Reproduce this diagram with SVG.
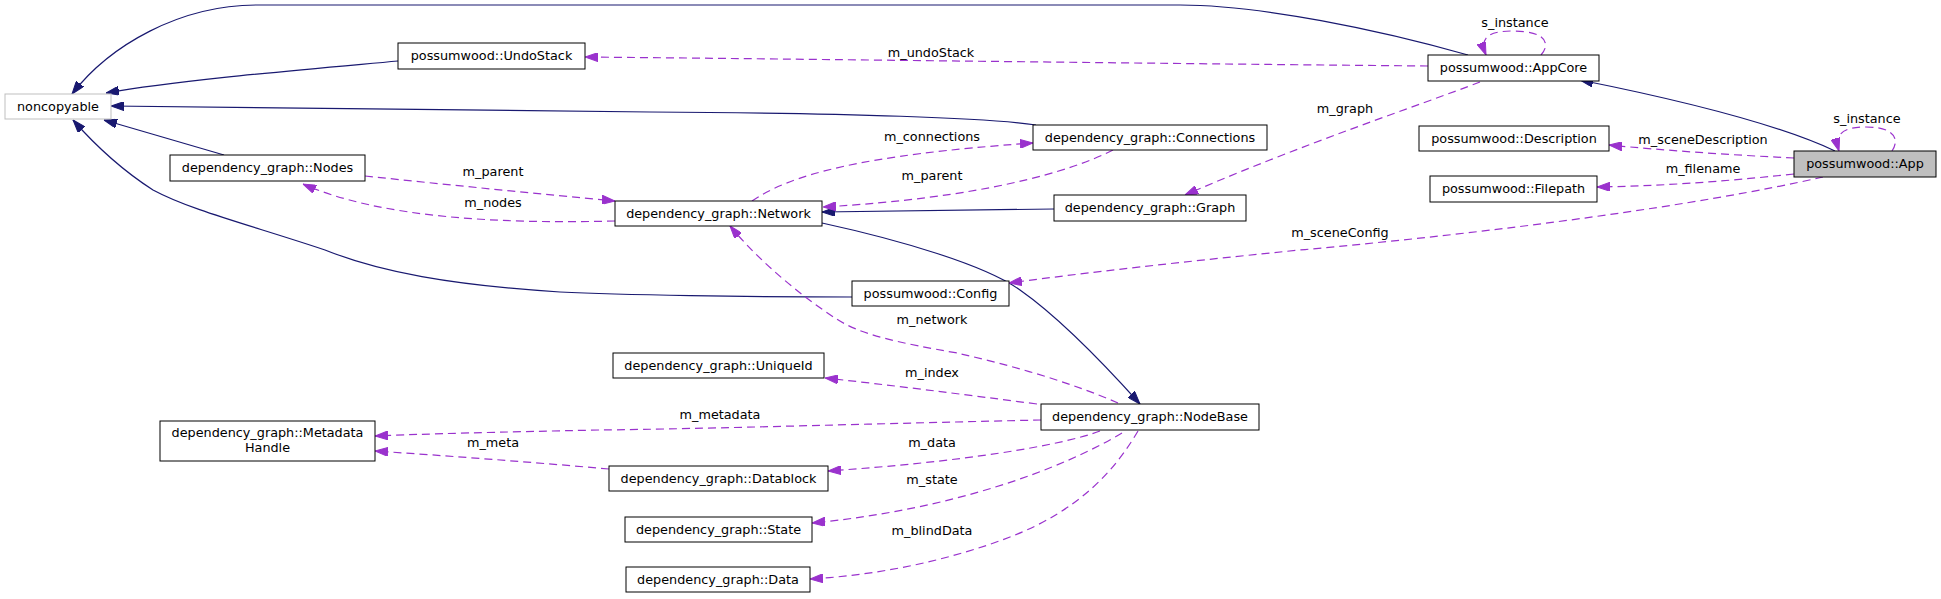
<svg xmlns="http://www.w3.org/2000/svg" width="1941" height="599" viewBox="0 0 1941 599">
<style>
.n rect{fill:#fff;stroke:#000;stroke-width:1}
.n text,.lbl{font-family:"DejaVu Sans",sans-serif;font-size:12.8px;fill:#000;text-anchor:middle}
.inh{fill:none;stroke:#191970;stroke-width:1.2;marker-end:url(#ab)}
.use{fill:none;stroke:#9a32cd;stroke-width:1.2;stroke-dasharray:8,5;marker-end:url(#ap)}
</style>
<defs>
<marker id="ab" viewBox="0 0 13 9" refX="13" refY="4.5" markerWidth="13" markerHeight="9" markerUnits="userSpaceOnUse" orient="auto"><path d="M0,0L13,4.5L0,9z" fill="#191970" stroke="#191970"/></marker>
<marker id="ap" viewBox="0 0 13 9" refX="13" refY="4.5" markerWidth="13" markerHeight="9" markerUnits="userSpaceOnUse" orient="auto"><path d="M0,0L13,4.5L0,9z" fill="#9a32cd" stroke="#9a32cd"/></marker>
</defs>
<rect width="1941" height="599" fill="#fff"/>
<g id="connectors">
<path class="inh" d="M1468,55 C1380,30 1260,5 1180,5 L257,5 C180,5 110,45 72,94"/>
<path class="inh" d="M398,61 C300,70 180,80 106,93"/>
<path class="inh" d="M1036,125 C990,118 850,113 650,112 C450,110 250,107 111,106"/>
<path class="inh" d="M224,155 L104,120"/>
<path class="inh" d="M852,297 C750,297 620,295 560,292 C450,285 380,272 325,250 C250,225 190,210 153,190 C125,172 95,145 73,120"/>
<path class="inh" d="M1054,209 C950,210 880,211 822,212"/>
<path class="inh" d="M822,223 C900,240 985,265 1020,290 C1060,318 1105,365 1140,404"/>
<path class="inh" d="M1835,151 C1780,125 1680,100 1580,80"/>
<path class="use" d="M1428,66 C1200,64 800,59 585,57"/>
<path class="use" d="M1541,55 C1550,45 1548,31 1513,31 C1485,31 1480,40 1486,55"/>
<path class="use" d="M1480,82 C1420,105 1300,145 1185,195"/>
<path class="use" d="M752,201 C790,175 860,155 1033,143"/>
<path class="use" d="M1113,150 C1070,172 980,198 823,207"/>
<path class="use" d="M615,221 C500,224 380,218 303,184"/>
<path class="use" d="M365,176 C450,185 540,194 615,201"/>
<path class="use" d="M1794,158 C1730,155 1660,150 1609,145"/>
<path class="use" d="M1892,151 C1899,141 1897,127 1866,127 C1843,127 1834,134 1839,151"/>
<path class="use" d="M1794,174 C1720,182 1660,186 1597,187"/>
<path class="use" d="M1823,177 C1700,205 1500,232 1300,250 C1160,264 1060,276 1009,283"/>
<path class="use" d="M1118,403 C1070,382 1010,365 957,353 C900,343 860,335 835,318 C800,295 760,262 730,226"/>
<path class="use" d="M1037,404 C960,394 890,385 825,378"/>
<path class="use" d="M1041,420 C900,423 700,429 600,430 C500,432 420,434 375,436"/>
<path class="use" d="M609,469 C530,462 450,456 375,451"/>
<path class="use" d="M1100,431 C1060,446 960,462 828,471"/>
<path class="use" d="M1122,433 C1060,470 950,510 812,523"/>
<path class="use" d="M1138,431 C1115,470 1080,510 1010,537 C950,560 880,575 810,579"/>
<text class="lbl" x="931" y="57">m_undoStack</text>
<text class="lbl" x="1515" y="27">s_instance</text>
<text class="lbl" x="1345" y="113">m_graph</text>
<text class="lbl" x="932" y="141">m_connections</text>
<text class="lbl" x="932" y="180">m_parent</text>
<text class="lbl" x="493" y="176">m_parent</text>
<text class="lbl" x="493" y="207">m_nodes</text>
<text class="lbl" x="1703" y="144">m_sceneDescription</text>
<text class="lbl" x="1867" y="123">s_instance</text>
<text class="lbl" x="1703" y="173">m_filename</text>
<text class="lbl" x="1340" y="237">m_sceneConfig</text>
<text class="lbl" x="932" y="324">m_network</text>
<text class="lbl" x="932" y="377">m_index</text>
<text class="lbl" x="720" y="419">m_metadata</text>
<text class="lbl" x="493" y="447">m_meta</text>
<text class="lbl" x="932" y="447">m_data</text>
<text class="lbl" x="932" y="484">m_state</text>
<text class="lbl" x="932" y="535">m_blindData</text>
</g>
<g id="noncopyable" class="n"><rect x="5" y="94" width="106" height="25" style="stroke:#bfbfbf"/><text x="58" y="111">noncopyable</text></g>
<g id="undostack" class="n"><rect x="398" y="43" width="187" height="26"/><text x="491.5" y="60">possumwood::UndoStack</text></g>
<g id="nodes" class="n"><rect x="170" y="155" width="195" height="26"/><text x="267.5" y="172">dependency_graph::Nodes</text></g>
<g id="network" class="n"><rect x="615" y="201" width="207" height="25"/><text x="718.5" y="218">dependency_graph::Network</text></g>
<g id="connections" class="n"><rect x="1033" y="125" width="234" height="25"/><text x="1150" y="142">dependency_graph::Connections</text></g>
<g id="graph" class="n"><rect x="1054" y="195" width="192" height="26"/><text x="1150" y="212">dependency_graph::Graph</text></g>
<g id="appcore" class="n"><rect x="1428" y="55" width="171" height="26"/><text x="1513.5" y="72">possumwood::AppCore</text></g>
<g id="description" class="n"><rect x="1419" y="126" width="190" height="25"/><text x="1514" y="143">possumwood::Description</text></g>
<g id="app" class="n"><rect x="1794" y="151" width="142" height="26" style="fill:#bfbfbf"/><text x="1865" y="168">possumwood::App</text></g>
<g id="filepath" class="n"><rect x="1430" y="176" width="167" height="26"/><text x="1513.5" y="193">possumwood::Filepath</text></g>
<g id="config" class="n"><rect x="852" y="281" width="157" height="25"/><text x="930.5" y="298">possumwood::Config</text></g>
<g id="uniqueid" class="n"><rect x="613" y="353" width="211" height="25"/><text x="718.5" y="370">dependency_graph::UniqueId</text></g>
<g id="nodebase" class="n"><rect x="1041" y="404" width="218" height="26"/><text x="1150" y="421">dependency_graph::NodeBase</text></g>
<g id="metadatahandle" class="n"><rect x="160" y="421" width="215" height="40"/><text x="267.5" y="437">dependency_graph::Metadata</text><text x="267.5" y="452">Handle</text></g>
<g id="datablock" class="n"><rect x="609" y="466" width="219" height="25"/><text x="718.5" y="483">dependency_graph::Datablock</text></g>
<g id="state" class="n"><rect x="625" y="517" width="187" height="25"/><text x="718.5" y="534">dependency_graph::State</text></g>
<g id="data" class="n"><rect x="626" y="567" width="184" height="25"/><text x="718" y="584">dependency_graph::Data</text></g>
</svg>
